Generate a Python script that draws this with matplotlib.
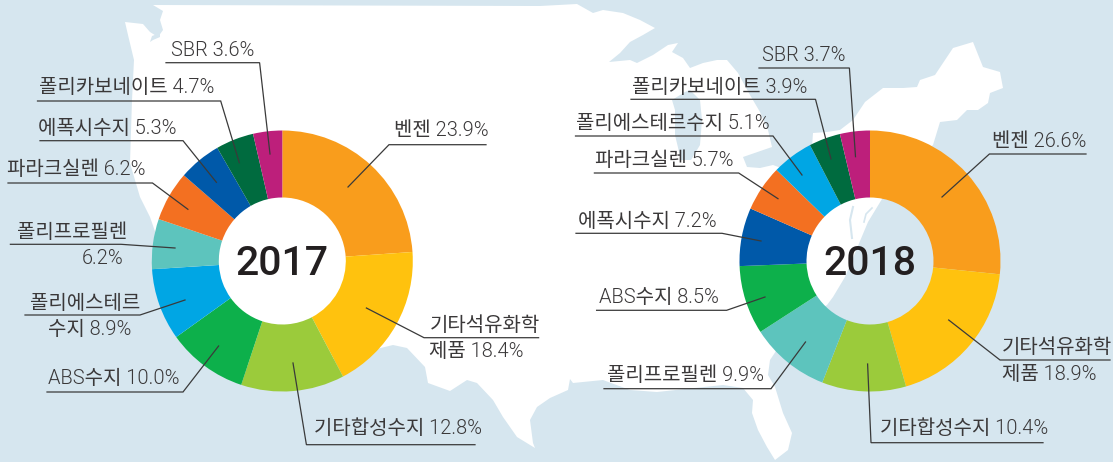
import matplotlib
matplotlib.use("Agg")
import matplotlib.pyplot as plt
from matplotlib.patches import Polygon

plt.rcParams['font.family'] = ['Roboto', 'Noto Sans CJK KR', 'DejaVu Sans']

# ---- data ----
categories_2017 = ['벤젠', '기타석유화학 제품', '기타합성수지', 'ABS수지', '폴리에스테르 수지',
                   '폴리프로필렌', '파라크실렌', '에폭시수지', '폴리카보네이트', 'SBR']
values_2017 = [23.9, 18.4, 12.8, 10.0, 8.9, 6.2, 6.2, 5.3, 4.7, 3.6]
categories_2018 = ['벤젠', '기타석유화학 제품', '기타합성수지', '폴리프로필렌', 'ABS수지',
                   '에폭시수지', '파라크실렌', '폴리에스테르수지', '폴리카보네이트', 'SBR']
values_2018 = [26.6, 18.9, 10.4, 9.9, 8.5, 7.2, 5.7, 5.1, 3.9, 3.7]

palette = {'벤젠': '#F99D1C', '기타석유화학 제품': '#FFC20E', '기타합성수지': '#9BCB3B',
           'ABS수지': '#0DB04B', '폴리에스테르 수지': '#00A6E4', '폴리에스테르수지': '#00A6E4',
           '폴리프로필렌': '#5DC4BD', '파라크실렌': '#F37021', '에폭시수지': '#0059A9',
           '폴리카보네이트': '#006B3F', 'SBR': '#BD1F7B'}

# ---- background map outline (pixel space) ----
land = [(153,5),(163,11),(160,20),(163,30),(158,37),(150,32),(143,24),(125,22),(128,35),(134,60),
        (132,100),(130,163),(140,197),(150,217),(158,240),(180,340),(270,375),(393,345),(407,348),
        (425,367),(428,383),(450,391),(467,380),(477,383),(493,400),(503,417),(517,437),(535,448),
        (533,443),(530,420),(537,407),(550,398),(568,390),(570,379),(573,383),(603,380),(630,390),
        (657,392),(723,385),(743,388),(753,400),(752,413),(758,430),(767,447),(775,460),(788,450),
        (792,433),(783,413),(775,387),(768,375),(770,360),(790,330),(827,305),(833,297),(845,277),
        (855,253),(868,222),(882,199),(890,180),(933,145),(940,122),(957,120),(967,110),(978,110),
        (988,103),(990,93),(1003,88),(1000,72),(983,67),(973,42),(953,48),(935,75),(920,80),(917,87),
        (903,88),(883,88),(865,102),(853,120),(840,130),(827,132),(813,133),(812,147),(800,175),
        (773,165),(760,168),(747,167),(743,157),(772,147),(768,130),(760,112),(750,95),(738,73),
        (727,60),(717,60),(703,63),(690,68),(683,58),(672,52),(678,43),(668,45),(653,55),(637,63),
        (630,60),(609,62),(620,53),(630,42),(643,35),(655,28),(640,20),(623,13),(603,10),(593,13),
        (577,4),(540,6)]
lake_michigan = [(685,92),(690,90),(700,100),(702,120),(700,145),(691,160),(681,160),(675,135),
                 (675,110),(672,100)]
puget = [(160,33),(152,36),(150,42),(153,40),(160,37)]
chesapeake = [(853,207),(850,220),(852,238)]
delaware = [(872,208),(866,214),(864,222)]

# ---- layout (pixel space) ----
labels_2017 = [
    (['SBR 3.6%'], [(171,56)], [(166,62.7),(259.6,62.7),(270,154)]),
    (['폴리카보네이트 4.7%'], [(38.6,93)], [(37.5,101),(220.7,101),(239.3,162.7)]),
    (['에폭시수지 5.3%'], [(37.5,134)], [(40,140.7),(183,140.7),(216.4,182.3)]),
    (['파라크실렌 6.2%'], [(7,175)], [(8,183),(152.5,183),(187.9,209.3)]),
    (['폴리프로필렌','6.2%'], [(17,238),(82,264)], [(10.4,244.3),(121,244.3),(175,248)]),
    (['폴리에스테르','수지 8.9%'], [(30,309),(48,335)], [(25,315),(140,315),(185,300)]),
    (['ABS수지 10.0%'], [(48,384)], [(47,392),(183,392),(218.6,346)]),
    (['기타합성수지 12.8%'], [(314,434)], [(475,444.7),(306.4,444.7),(293,363)]),
    (['기타석유화학','제품 18.4%'], [(430,331),(429,357)], [(538.6,337.7),(424,337.7),(366.4,308)]),
    (['벤젠 23.9%'], [(393.6,136)], [(486,144.7),(389,144.7),(348,187)]),
]
labels_2018 = [
    (['SBR 3.7%'], [(761.6,61)], [(759,68),(849.4,68),(855.5,156.7)]),
    (['폴리카보네이트 3.9%'], [(631.6,92.7)], [(631,99.3),(815.5,99.3),(831,159)]),
    (['폴리에스테르수지 5.1%'], [(575.5,129)], [(575.5,136),(773,136),(802,175)]),
    (['파라크실렌 5.7%'], [(595,165.7)], [(594.4,173),(738.7,173),(778,198.7)]),
    (['에폭시수지 7.2%'], [(578,226.7)], [(576,233.3),(722,233.3),(761,241)]),
    (['ABS수지 8.5%'], [(599.4,302.7)], [(596.6,310.3),(726.6,310.3),(765,297)]),
    (['폴리프로필렌 9.9%'], [(606.6,381)], [(604,388.7),(771,388.7),(805.5,342)]),
    (['기타합성수지 10.4%'], [(880,434.3)], [(1043,442.7),(871,442.7),(867.6,364)]),
    (['기타석유화학','제품 18.9%'], [(1002,352.7),(1001.6,380)], [(1110,360),(1000,360),(948.7,320)]),
    (['벤젠 26.6%'], [(992,146.7)], [(1086,154),(989.4,154),(942,197)]),
]

BG = '#D6E6EF'
TXT = '#3A3839'
R_OUT, R_IN, CY = 130.5, 63.5, 261

fig = plt.figure(figsize=(11.13, 4.62), dpi=100, facecolor=BG)
ax = fig.add_axes([0, 0, 1, 1])
ax.set_facecolor(BG)

ax.add_patch(Polygon(land, closed=True, fc='white', ec='none', zorder=1))
ax.add_patch(Polygon(lake_michigan, closed=True, fc=BG, ec='none', zorder=1.1))
ax.add_patch(Polygon(puget, closed=True, fc=BG, ec='none', zorder=1.1))
for seg, w in ((chesapeake, 1.5), (delaware, 1.2)):
    ax.plot(*zip(*seg), color=BG, lw=w, zorder=1.1)

for cats, vals, cx, year, labs in ((categories_2017, values_2017, 282.3, '2017', labels_2017),
                                   (categories_2018, values_2018, 870, '2018', labels_2018)):
    ax.pie(vals, colors=[palette[c] for c in cats], center=(cx, CY), radius=R_OUT,
           startangle=-90, counterclock=True, frame=True, normalize=True,
           wedgeprops=dict(width=R_OUT - R_IN, edgecolor='none', zorder=2))
    ax.text(cx, CY + 14, year, ha='center', va='baseline', fontsize=29.5, fontweight='medium',
            color='#231F20', zorder=5)
    for lines, anchors, leader in labs:
        ax.plot(*zip(*leader), color='#3A3A3A', lw=0.9, zorder=3, solid_joinstyle='miter')
        for s, (x, y) in zip(lines, anchors):
            ax.text(x, y, s, ha='left', va='baseline', fontsize=14.4, fontweight=300,
                    color=TXT, zorder=4)

ax.set_xlim(0, 1113)
ax.set_ylim(462, 0)
ax.set_aspect('auto')
ax.axis('off')
fig.savefig('out.png', dpi=100, facecolor=BG)
